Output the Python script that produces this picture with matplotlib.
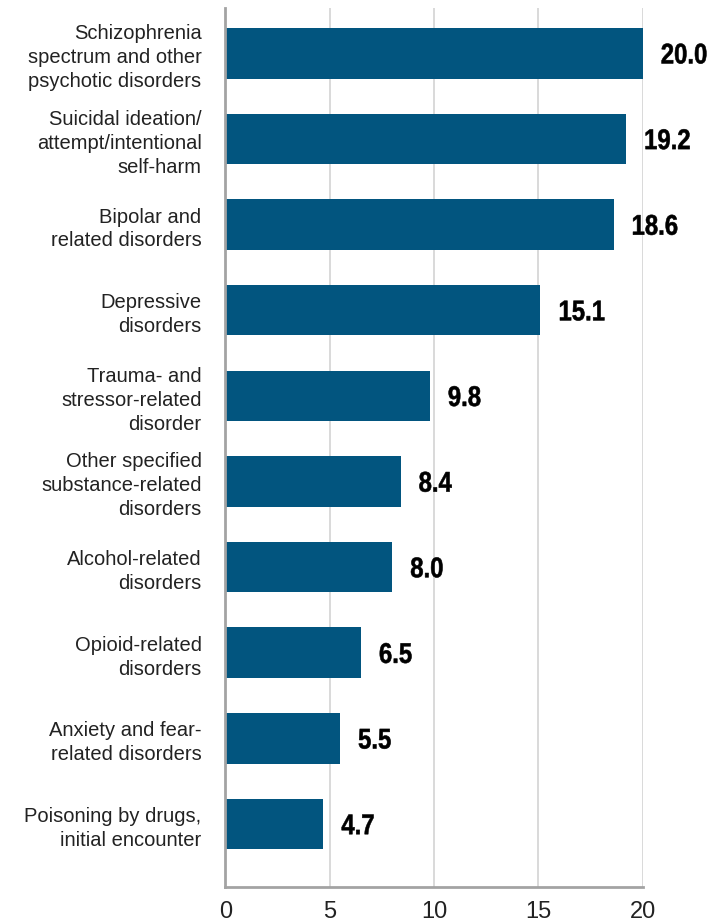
import matplotlib.pyplot as plt
import matplotlib.transforms as mtransforms
from matplotlib.textpath import TextPath
from matplotlib.patches import PathPatch
from matplotlib.font_manager import FontProperties
import numpy as np

# data (top to bottom as shown)
categories = [
    "Schizophrenia\nspectrum and other\npsychotic disorders",
    "Suicidal ideation/\nattempt/intentional\nself-harm",
    "Bipolar and\nrelated disorders",
    "Depressive\ndisorders",
    "Trauma- and\nstressor-related\ndisorder",
    "Other specified\nsubstance-related\ndisorders",
    "Alcohol-related\ndisorders",
    "Opioid-related\ndisorders",
    "Anxiety and fear-\nrelated disorders",
    "Poisoning by drugs,\ninitial encounter",
]
values = [20.0, 19.2, 18.6, 15.1, 9.8, 8.4, 8.0, 6.5, 5.5, 4.7]
xticks = [0, 5, 10, 15, 20]

plt.rcParams['font.family'] = ['Liberation Sans', 'DejaVu Sans']

fig = plt.figure(figsize=(7.15, 9.21), dpi=100)
ax = fig.add_axes([0.315, 0.037, 0.584, 0.954])

ypos = np.arange(len(values))[::-1]
ax.barh(ypos, values, height=0.59, color='#02557f', zorder=3)

ax.set_xlim(0, 20)
ax.set_ylim(-0.735, 9.525)

# value labels: bold, squeezed a little to look condensed
fp = FontProperties(family='Liberation Sans', weight='bold')
size_pt = 20.5
px = fig.dpi / 72
for y, v in zip(ypos, values):
    path = TextPath((0, 0), f"{v:.1f}", size=size_pt, prop=fp)
    cap = 0.716 * size_pt
    tr = (mtransforms.Affine2D().translate(0, -cap / 2).scale(0.84 * px, px)
          .translate(18, 0)
          + mtransforms.ScaledTranslation(v, y, ax.transData))
    ax.add_patch(PathPatch(path, transform=tr, facecolor='black',
                           edgecolor='black', linewidth=0.4,
                           clip_on=False, zorder=5))

ax.set_xticks(xticks)
ax.set_xticklabels([str(t) for t in xticks], fontsize=17, color='#222222')
ax.set_yticks(ypos)
ax.set_yticklabels(categories, fontsize=14.5, color='#222222', linespacing=1.33)
ax.tick_params(axis='both', length=0)
ax.tick_params(axis='y', pad=17)
ax.tick_params(axis='x', pad=10)

ax.grid(axis='x', color='#d3d3d3', linewidth=1.2, zorder=0)
for s in ['top', 'right']:
    ax.spines[s].set_visible(False)
for s in ['left', 'bottom']:
    ax.spines[s].set_color('#a3a3a3')
    ax.spines[s].set_linewidth(2)
    ax.spines[s].set_zorder(4)

fig.savefig("out.png", dpi=100)
